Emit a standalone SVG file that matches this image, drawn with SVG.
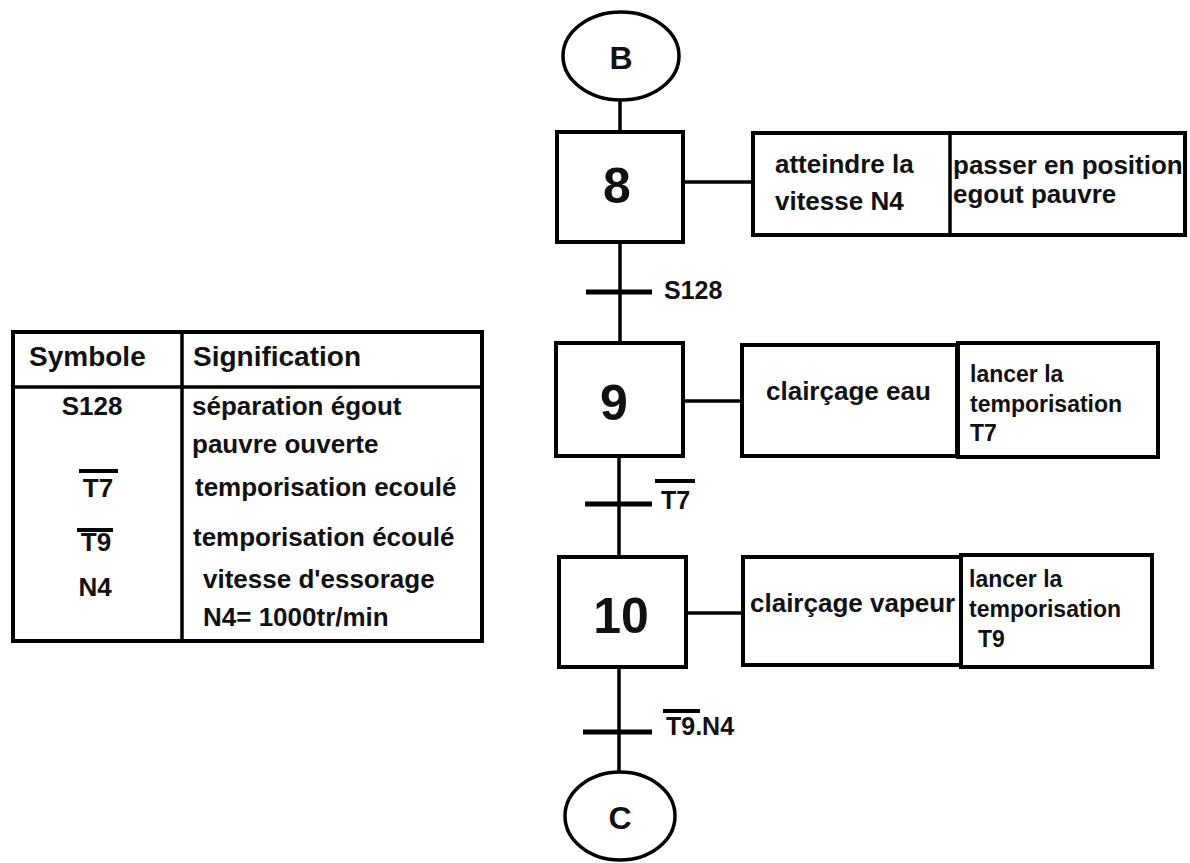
<svg xmlns="http://www.w3.org/2000/svg" width="1190" height="863" viewBox="0 0 1190 863">
  <style>
    .box { fill: #fff; stroke: #000; stroke-width: 4; }
    .ell { fill: #fff; stroke: #000; stroke-width: 3.5; }
    .ln { stroke: #000; stroke-width: 3.5; fill: none; }
    .bar { stroke: #000; stroke-width: 5; fill: none; }
    .ov { stroke: #000; stroke-width: 4; fill: none; }
    text { font-family: "Liberation Sans", Arial, sans-serif; font-weight: bold; fill: #111; }
    .num { font-size: 50px; text-anchor: middle; }
    .lbl { font-size: 32px; text-anchor: middle; }
    .act { font-size: 26px; }
    .sm { font-size: 23px; }
    .tr { font-size: 25px; }
    .th { font-size: 28px; }
    .td { font-size: 26px; }
    .mid { text-anchor: middle; }
  </style>
  <rect width="1190" height="863" fill="#fff"/>

  <g id="connectors">
    <line class="ln" x1="620" y1="100" x2="620" y2="132"/>
    <line class="ln" x1="620" y1="242" x2="620" y2="343"/>
    <line class="ln" x1="619" y1="456" x2="619" y2="557"/>
    <line class="ln" x1="619" y1="667" x2="619" y2="772"/>
    <line class="ln" x1="683" y1="182" x2="753" y2="182"/>
    <line class="ln" x1="683" y1="401" x2="742" y2="401"/>
    <line class="ln" x1="686" y1="613" x2="743" y2="613"/>
  </g>

  <g id="start-B">
    <ellipse class="ell" cx="621" cy="56" rx="58" ry="44"/>
    <text class="lbl" x="621" y="69">B</text>
  </g>

  <g id="step-8">
    <rect class="box" x="557" y="132" width="126" height="110"/>
    <text class="num" x="617" y="203">8</text>
  </g>
  <g id="action-8">
    <rect class="box" x="753" y="133" width="432" height="102"/>
    <line class="ln" x1="950" y1="133" x2="950" y2="235" stroke-width="4"/>
    <text class="act" x="775" y="173">atteindre la</text>
    <text class="act" x="775" y="210">vitesse N4</text>
    <text class="act" x="953" y="174">passer en position</text>
    <text class="act" x="953" y="203">egout pauvre</text>
  </g>

  <g id="transition-S128">
    <line class="bar" x1="586" y1="292" x2="652" y2="292"/>
    <text class="tr" x="664" y="299">S128</text>
  </g>

  <g id="step-9">
    <rect class="box" x="556" y="343" width="127" height="113"/>
    <text class="num" x="614" y="420">9</text>
  </g>
  <g id="action-9">
    <rect class="box" x="742" y="345" width="215" height="111"/>
    <rect class="box" x="958" y="343" width="200" height="114" stroke-width="5"/>
    <text class="act" x="766" y="400">clairçage eau</text>
    <text class="sm" x="970" y="382">lancer la</text>
    <text class="sm" x="970" y="412">temporisation</text>
    <text class="sm" x="970" y="441">T7</text>
  </g>

  <g id="transition-T7">
    <line class="bar" x1="585" y1="504" x2="652" y2="504"/>
    <line class="ov" x1="655" y1="481" x2="695" y2="481"/>
    <text class="tr" x="661" y="509">T7</text>
  </g>

  <g id="step-10">
    <rect class="box" x="559" y="557" width="127" height="110"/>
    <text class="num" x="621" y="633">10</text>
  </g>
  <g id="action-10">
    <rect class="box" x="743" y="557" width="218" height="108"/>
    <rect class="box" x="961" y="555" width="191" height="112" stroke-width="5"/>
    <text class="act" x="750" y="612">clairçage vapeur</text>
    <text class="sm" x="969" y="587">lancer la</text>
    <text class="sm" x="969" y="617">temporisation</text>
    <text class="sm" x="978" y="647">T9</text>
  </g>

  <g id="transition-T9N4">
    <line class="bar" x1="583" y1="732" x2="652" y2="732"/>
    <line class="ov" x1="663" y1="711" x2="700" y2="711"/>
    <text class="tr" x="666" y="735">T9.N4</text>
  </g>

  <g id="end-C">
    <ellipse class="ell" cx="620" cy="816" rx="55" ry="44"/>
    <text class="lbl" x="620" y="829">C</text>
  </g>

  <g id="legend-table">
    <rect class="box" x="13" y="332" width="469" height="309"/>
    <line class="ln" x1="13" y1="387" x2="482" y2="387" stroke-width="4"/>
    <line class="ln" x1="182" y1="332" x2="182" y2="641" stroke-width="4"/>
    <text class="th" x="29" y="366">Symbole</text>
    <text class="th" x="193" y="366">Signification</text>
    <text class="td mid" x="92" y="415">S128</text>
    <text class="td" x="192" y="415">séparation égout</text>
    <text class="td" x="192" y="453">pauvre ouverte</text>
    <line class="ov" x1="79" y1="471" x2="118" y2="471"/>
    <text class="td mid" x="98" y="497">T7</text>
    <text class="td" x="195" y="496">temporisation ecoulé</text>
    <line class="ov" x1="77" y1="530" x2="113" y2="530"/>
    <text class="td mid" x="96" y="551">T9</text>
    <text class="td" x="193" y="546">temporisation écoulé</text>
    <text class="td mid" x="95" y="596">N4</text>
    <text class="td" x="203" y="588">vitesse d'essorage</text>
    <text class="td" x="203" y="626">N4= 1000tr/min</text>
  </g>
</svg>
